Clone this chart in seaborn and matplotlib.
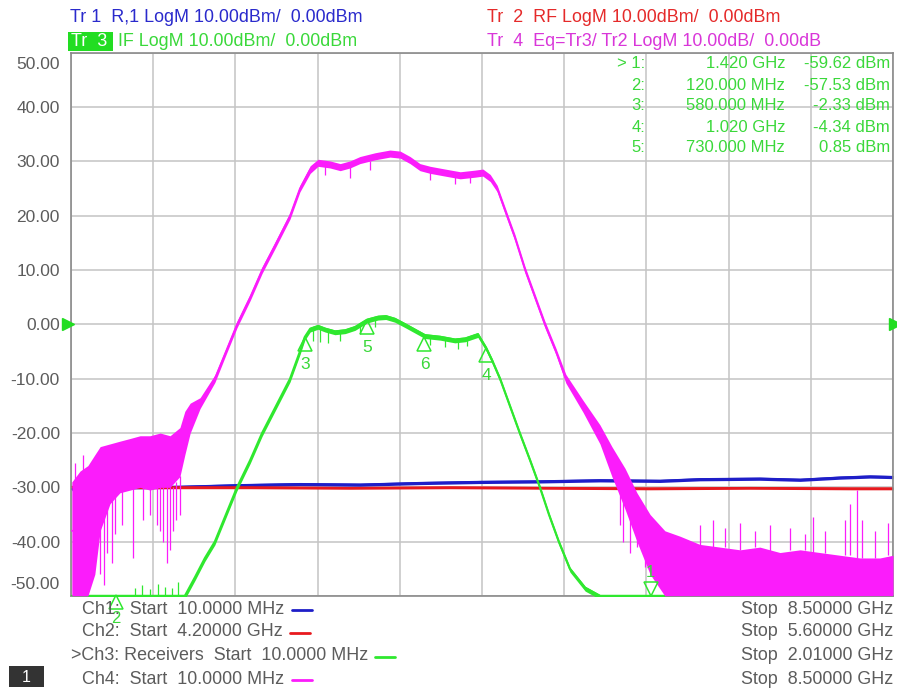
import numpy as np
import pandas as pd
import matplotlib
matplotlib.use("Agg")
import matplotlib.pyplot as plt
import matplotlib.transforms as mtransforms
from matplotlib.patches import Rectangle
import seaborn as sns

# ---------------- data (x = Ch3 IF sweep frequency in MHz) ----------------
x_start, x_stop = 10, 2010
y_ticks = [50, 40, 30, 20, 10, 0, -10, -20, -30, -40, -50]
y_tick_labels = [f"{v:.2f}" for v in y_ticks]

# Tr1  R,1 (blue)
tr1_f = [12, 129, 275, 421, 567, 713, 859, 1005, 1151, 1297, 1443, 1540, 1686, 1784, 1881, 1954, 2010]
tr1_db = [-30.3, -30.0, -29.9, -29.6, -29.4, -29.5, -29.2, -29.0, -28.9, -28.7, -28.8, -28.5, -28.4, -28.6, -28.2, -28.0, -28.1]

# Tr2  RF (red)
tr2_f = [12, 202, 446, 689, 933, 1176, 1419, 1662, 1905, 2010]
tr2_db = [-29.9, -30.0, -30.0, -30.1, -30.0, -30.1, -30.2, -30.1, -30.2, -30.2]

# Tr3  IF (green)
tr3_f = [12, 154, 287, 312, 336, 360, 387, 414, 446, 475, 509, 543, 567, 579, 592, 611, 628, 652,
         677, 701, 730, 757, 776, 798, 823, 847, 871, 908, 944, 969, 1000, 1020, 1034, 1054, 1078,
         1102, 1127, 1151, 1173, 1197, 1224, 1261, 1297, 2010]
tr3_db = [-50, -50, -50, -46.5, -43, -40, -35, -30, -25, -20, -15, -10, -5, -2.3, -0.8, -0.3, -0.8, -1.3,
          -1.1, -0.5, 0.85, 1.4, 1.5, 1.0, 0.0, -1.0, -2.0, -2.3, -2.8, -2.6, -1.8, -4.3, -6.5, -10, -15,
          -20, -25, -30, -35, -40, -45, -48.5, -50, -50]
tr3_spk_f = [166, 183, 202, 221, 239, 256, 270, 599, 616, 635, 664, 713, 750, 884, 920, 952, 974]
tr3_spk_from = [-50, -50, -50, -50, -50, -50, -50, -0.8, -0.5, -1.0, -1.3, -0.2, 1.2, -2.0, -2.4, -2.8, -2.6]
tr3_spk_to = [-48.5, -48, -48.8, -47.8, -48.3, -48.6, -47.5, -3.0, -3.2, -3.5, -3.0, -1.8, -0.5, -3.8, -4.2, -4.5, -4.0]

# Tr4  Eq=Tr3/Tr2 (magenta): centre, upper and lower edge of the noisy trace
tr4_f = [12, 32, 51, 68, 81, 105, 129, 154, 178, 202, 227, 251, 275, 287, 300, 324, 360, 387, 414,
         446, 475, 506, 543, 567, 592, 611, 640, 665, 689, 713, 750, 786, 811, 835, 859, 884, 920,
         957, 993, 1012, 1030, 1047, 1066, 1090, 1115, 1139, 1163, 1190, 1214, 1256, 1297, 1326,
         1358, 1387, 1419, 1455, 1492, 1540, 1589, 1638, 1686, 1735, 1784, 1832, 1881, 1930, 1978, 2010]
tr4_db = [-38, -38, -35, -30, -27, -26, -25.5, -25, -24.5, -24.5, -24, -24, -22, -19, -17, -14.5, -10, -5, 0,
          5, 10, 14.5, 20, 25, 28.5, 29.8, 29.5, 29, 29.5, 30.3, 31, 31.5, 31.3, 30.3, 29, 28.5, 28,
          27.5, 27.8, 28, 27, 25, 21, 16, 10, 5, 0, -5, -10, -15, -20, -25,
          -30, -35, -40, -44, -47, -47, -47, -47.5, -47.5, -47.5, -47.5, -47.5, -47.5, -48, -48, -48]
tr4_hi = [-29, -27, -26, -24, -22.5, -22, -21.5, -21, -20.5, -20.5, -20, -20.5, -19, -16, -14.5, -13.5, -9.3, -4.4, 0.6,
          5.6, 10.6, 15.1, 20.6, 25.6, 29.2, 30.4, 30.1, 29.6, 30.1, 30.9, 31.6, 32.1, 31.9, 30.9, 29.6, 29.1, 28.6,
          28.1, 28.4, 28.6, 27.6, 25.6, 21.6, 16.6, 10.6, 5.6, 0.6, -4.4, -9.2, -14, -18.5, -22.5,
          -26.5, -31, -35, -38, -39, -40.5, -41, -41.5, -41, -42, -41.5, -42, -42.5, -43, -43, -42.5]
tr4_lo = [-50, -50, -50, -46, -38, -33, -31, -30.5, -30, -30.5, -30, -30, -28, -24, -20, -15.5, -10.7, -5.6, -0.6,
          4.4, 9.4, 13.9, 19.4, 24.4, 27.8, 29.1, 28.8, 28.3, 28.8, 29.6, 30.3, 30.8, 30.6, 29.6, 28.3, 27.8, 27.3,
          26.8, 27.1, 27.3, 26.3, 24.4, 20.4, 15.4, 9.4, 4.4, -0.6, -5.6, -10.8, -16.2, -22, -28,
          -34, -40, -46, -50, -50, -50, -50, -50, -50, -50, -50, -50, -50, -50, -50, -50]
tr4_spk_f = [20, 39, 81, 90, 98, 110, 117, 134, 161, 185, 202, 219, 227, 234, 244, 251, 258, 265, 275,
             628, 689, 738, 884, 944, 981,
             1346, 1353, 1370, 1387, 1406, 1423, 1443,
             1540, 1572, 1601, 1638, 1674, 1711, 1759, 1796, 1815, 1845, 1893, 1905, 1922, 1935, 1966, 1998]
tr4_spk_from = [-29, -27, -30, -30, -30, -30, -30, -30, -30, -30, -30, -30, -30, -30, -30, -30, -30, -29, -28,
                29.5, 29, 30, 28, 27.5, 27.5,
                -28, -29, -31, -34, -36, -38, -40,
                -41, -41, -41, -41.5, -41, -42, -41.5, -41.5, -42, -42, -42.5, -42.5, -43, -43, -43, -42.5]
tr4_spk_to = [-25.5, -24, -46, -48, -42, -44, -38.5, -37, -43, -36, -35, -37, -38, -40, -44, -41.5, -38, -36, -35,
              27.5, 27, 28.5, 26.5, 25.8, 26,
              -37, -40, -42, -41, -44.7, -44, -45.5,
              -37, -36, -37.5, -36.5, -38, -37, -37.5, -38.5, -35.5, -38, -36, -33, -30.5, -36, -38, -36.5]

# markers (number, frequency MHz, value dBm)
mk_num = [1, 2, 3, 4, 5]
mk_freq = [1420, 120, 580, 1020, 730]
mk_val = [-59.62, -57.53, -2.33, -4.34, 0.85]
mk6_freq, mk6_val = 870, -2.3

header = [("Tr 1  R,1 LogM 10.00dBm/  0.00dBm", "Tr  2  RF LogM 10.00dBm/  0.00dBm"),
          ("IF LogM 10.00dBm/  0.00dBm", "Tr  4  Eq=Tr3/ Tr2 LogM 10.00dB/  0.00dB")]
ch_start = ["Ch1:  Start  10.0000 MHz", "Ch2:  Start  4.20000 GHz",
            ">Ch3: Receivers  Start  10.0000 MHz", "Ch4:  Start  10.0000 MHz"]
ch_stop = ["Stop  8.50000 GHz", "Stop  5.60000 GHz", "Stop  2.01000 GHz", "Stop  8.50000 GHz"]

# ---------------- styling ----------------
C_BLUE, C_RED, C_GREEN, C_MAG = "#1e1ec8", "#e8191e", "#2fe82f", "#fb1cfb"
T_BLUE, T_RED, T_GREEN, T_MAG = "#2a2acc", "#e52a2a", "#3ad83a", "#d936d9"
GRAY = "#5c5c5c"

sns.set_theme(style="white")
plt.rcParams["font.family"] = ["Liberation Sans", "DejaVu Sans"]

W, H = 897, 689
fig = plt.figure(figsize=(W / 100, H / 100), dpi=100)
L, R, T, B = 71, 893, 52.8, 596
ax = fig.add_axes([L / W, 1 - B / H, (R - L) / W, (B - T) / H])


def fx(px):
    return px / W


def fy(py):
    return 1 - py / H


def trace(f, db, color, lw=1.4, z=2):
    df = pd.DataFrame({"f": f, "db": db})
    sns.lineplot(data=df, x="f", y="db", color=color, lw=lw, ax=ax, errorbar=None, zorder=z)


# blue / red
ax.fill_between(tr1_f, np.array(tr1_db) - 0.3, np.array(tr1_db) + 0.3, color=C_BLUE, lw=0, zorder=2)
trace(tr1_f, tr1_db, C_BLUE, 1.4, 2)
ax.fill_between(tr2_f, np.array(tr2_db) - 0.25, np.array(tr2_db) + 0.25, color=C_RED, lw=0, zorder=2)
trace(tr2_f, tr2_db, C_RED, 1.4, 2)

# green
g = np.array(tr3_db)
ax.fill_between(tr3_f, g - 0.6, g + 0.3, color=C_GREEN, lw=0, zorder=3)
trace(tr3_f, tr3_db, C_GREEN, 1.6, 3)
ax.vlines(tr3_spk_f, tr3_spk_from, tr3_spk_to, color=C_GREEN, lw=0.9, zorder=3)

# magenta
ax.fill_between(tr4_f, tr4_lo, tr4_hi, color=C_MAG, lw=0, zorder=4)
trace(tr4_f, tr4_db, C_MAG, 1.3, 4)
ax.vlines(tr4_spk_f, tr4_spk_from, tr4_spk_to, color=C_MAG, lw=0.9, zorder=4)

ax.set_xlim(x_start, x_stop)
ax.set_ylim(-50, 50)

# grid / frame
ax.set_xticks(np.linspace(x_start, x_stop, 11))
ax.set_xticklabels([])
ax.set_yticks(y_ticks, labels=y_tick_labels)
ax.grid(True, color="#c4c4c4", lw=1.1)
ax.set_axisbelow(True)
for s in ax.spines.values():
    s.set_color("#8a8a8a")
    s.set_linewidth(1.2)
ax.tick_params(axis="both", length=0)
ax.tick_params(axis="y", pad=8, labelsize=12.5, labelcolor=GRAY)
ax.set_xlabel("")
ax.set_ylabel("")
for tk in ax.yaxis.get_major_ticks():
    t = tk.label1.get_text()
    if t == "50.00":
        tk.label1.set_va("top")
        tk.label1.set_transform(tk.label1.get_transform() +
                                mtransforms.ScaledTranslation(0, -3 / 72, fig.dpi_scale_trans))
    elif t == "-50.00":
        tk.label1.set_va("bottom")
        tk.label1.set_transform(tk.label1.get_transform() +
                                mtransforms.ScaledTranslation(0, 3 / 72, fig.dpi_scale_trans))

# reference arrows at 0 dB
bt = mtransforms.blended_transform_factory(ax.transAxes, ax.transData)
ax.plot([-0.004], [0], marker=">", ms=8, color="#22dd22", transform=bt, clip_on=False, zorder=6)
ax.plot([1.002], [0], marker=">", ms=8, color="#22dd22", transform=bt, clip_on=False, zorder=6)

# on-trace markers (triangles with apex on the trace)
up_off = mtransforms.offset_copy(ax.transData, fig=fig, y=-5, units="points")
for n, fq, v in list(zip(mk_num, mk_freq, mk_val))[2:] + [(6, mk6_freq, mk6_val)]:
    ax.plot([fq], [v], marker="^", ms=10, mfc="none", mec=C_GREEN, mew=1.1,
            transform=up_off, zorder=7, clip_on=False)
    ax.annotate(str(n), (fq, v), xytext=(0, -20), textcoords="offset points", ha="center",
                va="center", color=T_GREEN, fontsize=12.5, zorder=7)
# off-screen markers 1 and 2 parked at the bottom edge
ax.plot([mk_freq[0]], [-50], marker="v", ms=10, mfc="none", mec=C_GREEN, mew=1.1,
        transform=mtransforms.offset_copy(ax.transData, fig=fig, y=5, units="points"),
        zorder=7, clip_on=False)
ax.annotate(str(mk_num[0]), (mk_freq[0], -50), xytext=(0, 17), textcoords="offset points",
            ha="center", va="center", color=T_GREEN, fontsize=12, zorder=7)
ax.plot([mk_freq[1]], [-50], marker="^", ms=10, mfc="none", mec=C_GREEN, mew=1.1,
        transform=mtransforms.offset_copy(ax.transData, fig=fig, y=-4, units="points"),
        zorder=7, clip_on=False)
ax.annotate(str(mk_num[1]), (mk_freq[1], -50), xytext=(0, -16), textcoords="offset points",
            ha="center", va="center", color=T_GREEN, fontsize=12, zorder=7, annotation_clip=False)

# marker table


def ffmt(f):
    return f"{f / 1000:.3f} GHz" if f >= 1000 else f"{f:.3f} MHz"


rows_y = [64, 85, 106, 127, 148]
for i, (n, fq, v) in enumerate(zip(mk_num, mk_freq, mk_val)):
    lead = f"> {n}:" if i == 0 else f"{n}:"
    fig.text(fx(645), fy(rows_y[i]), lead, ha="right", va="center", color=T_GREEN, fontsize=12)
    fig.text(fx(785), fy(rows_y[i]), ffmt(fq), ha="right", va="center", color=T_GREEN, fontsize=12)
    fig.text(fx(890), fy(rows_y[i]), f"{v:.2f} dBm", ha="right", va="center", color=T_GREEN, fontsize=12)

# header
fig.text(fx(70), fy(18), header[0][0], ha="left", va="center", color=T_BLUE, fontsize=12.9)
fig.text(fx(487), fy(18), header[0][1], ha="left", va="center", color=T_RED, fontsize=12.9)
fig.patches.append(Rectangle((fx(68), fy(51)), (113 - 68) / W, (51 - 32) / H,
                             transform=fig.transFigure, facecolor="#22dd22", edgecolor="none"))
fig.text(fx(71), fy(42), "Tr  3", ha="left", va="center", color="white", fontsize=12.9)
fig.text(fx(118), fy(42), header[1][0], ha="left", va="center", color=T_GREEN, fontsize=12.9)
fig.text(fx(487), fy(42), header[1][1], ha="left", va="center", color=T_MAG, fontsize=12.9)

# channel footer
foot_y = [609, 632, 656, 679]
foot_x = [82, 82, 71, 82]
line_x = [(292, 312), (290, 310), (375, 395), (292, 312)]
line_c = [C_BLUE, C_RED, C_GREEN, C_MAG]
for i in range(4):
    fig.text(fx(foot_x[i]), fy(foot_y[i]), ch_start[i], ha="left", va="center", color=GRAY, fontsize=12.9)
    fig.lines.append(plt.Line2D([fx(line_x[i][0]), fx(line_x[i][1])], [fy(foot_y[i] + 1)] * 2,
                                transform=fig.transFigure, color=line_c[i], lw=2))
    fig.text(fx(893), fy(foot_y[i]), ch_stop[i], ha="right", va="center", color=GRAY, fontsize=12.9)

fig.patches.append(Rectangle((fx(9), fy(687)), 35 / W, 21 / H, transform=fig.transFigure,
                             facecolor="#333333", edgecolor="none"))
fig.text(fx(26.5), fy(677), "1", ha="center", va="center", color="white", fontsize=11.5)

fig.savefig("out.png", dpi=100)
